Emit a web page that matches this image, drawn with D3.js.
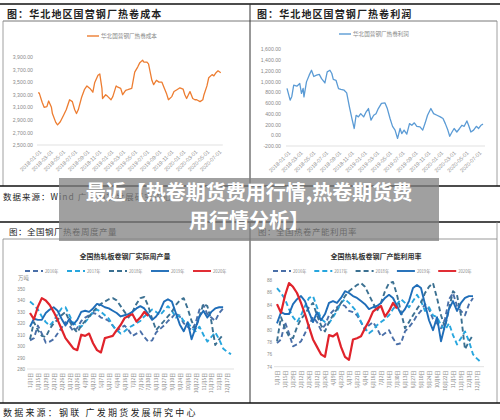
<!DOCTYPE html>
<html>
<head>
<meta charset="utf-8">
<title>热卷期货费用行情</title>
<script src="https://cdn.jsdelivr.net/npm/d3@7"></script>
<style>
  body { margin: 0; background: #fff; }
  svg { display: block; font-family: "Noto Sans CJK SC", "DejaVu Sans", sans-serif; }
</style>
</head>
<body>
<div id="chart"></div>
<script>

// ---------- data: top-left, daily cost ----------
var costDates = ["2018-01-01","2018-01-07","2018-01-22","2018-02-01","2018-02-15","2018-02-24","2018-03-10","2018-03-15",
  "2018-04-01","2018-04-10","2018-04-24","2018-05-10","2018-05-24","2018-06-10","2018-06-24","2018-07-06","2018-07-15",
  "2018-07-24","2018-08-10","2018-08-24","2018-09-06","2018-09-21","2018-10-06","2018-10-15","2018-11-01","2018-11-10",
  "2018-11-21","2018-11-24","2018-12-10","2018-12-21","2019-01-06","2019-01-15","2019-02-01","2019-02-10","2019-02-24",
  "2019-03-06","2019-03-21","2019-04-01","2019-04-21","2019-05-06","2019-05-21","2019-06-01","2019-06-15","2019-06-21",
  "2019-07-06","2019-07-15","2019-08-01","2019-08-10","2019-08-24","2019-09-06","2019-09-21","2019-10-01","2019-10-15",
  "2019-10-24","2019-11-10","2019-11-21","2019-12-06","2019-12-21","2020-01-06","2020-01-15","2020-01-24","2020-02-10",
  "2020-02-24","2020-03-06","2020-03-15","2020-04-01","2020-04-15","2020-04-21","2020-05-06","2020-05-15","2020-06-01",
  "2020-06-10","2020-06-21","2020-07-01","2020-07-15"];
var costValues = [3330,3330,3180,3100,3110,3200,3100,3000,2860,2820,2870,2970,3060,3220,3190,3060,3000,3060,3260,3380,
  3440,3400,3340,3490,3610,3630,3400,3240,3300,3270,3220,3270,3440,3420,3400,3300,3370,3380,3400,3660,3740,3810,3850,
  3820,3820,3790,3530,3460,3530,3500,3500,3420,3310,3220,3270,3350,3380,3410,3390,3300,3240,3350,3240,3220,3220,3190,
  3220,3300,3440,3570,3620,3600,3650,3680,3650];

// ---------- data: top-right, daily profit ----------
var profitDates = ["2018-01-01","2018-01-16","2018-01-24","2018-02-02","2018-02-17","2018-03-03","2018-03-11","2018-03-19",
  "2018-03-23","2018-04-04","2018-04-17","2018-04-28","2018-05-09","2018-05-22","2018-06-04","2018-06-15","2018-07-01",
  "2018-07-12","2018-07-25","2018-08-03","2018-08-10","2018-08-23","2018-09-04","2018-09-15","2018-10-01","2018-10-13",
  "2018-10-26","2018-11-07","2018-11-18","2018-11-27","2018-12-08","2018-12-19","2019-01-02","2019-01-14","2019-01-25",
  "2019-02-06","2019-02-19","2019-03-02","2019-03-13","2019-03-28","2019-04-14","2019-04-25","2019-05-08","2019-05-20",
  "2019-06-01","2019-06-13","2019-06-25","2019-07-03","2019-07-14","2019-07-27","2019-08-09","2019-08-20","2019-09-01",
  "2019-09-13","2019-09-28","2019-10-11","2019-10-23","2019-11-03","2019-11-19","2019-12-02","2019-12-18","2020-01-03",
  "2020-01-16","2020-01-27","2020-02-08","2020-02-17","2020-02-28","2020-03-09","2020-03-22","2020-04-04","2020-04-15",
  "2020-04-26","2020-05-09","2020-05-17","2020-05-28","2020-06-10","2020-06-23","2020-07-04","2020-07-15","2020-07-25"];
var profitValues = [870,650,720,930,910,960,775,870,710,990,1115,1205,1090,1115,1130,1050,970,1175,1205,1145,1035,1020,
  865,850,835,785,525,310,125,370,340,400,340,435,495,280,370,400,495,590,600,495,310,165,95,-60,125,30,95,20,215,185,
  230,165,155,95,230,370,495,400,370,340,310,215,95,-20,60,125,60,125,185,165,265,185,60,95,165,125,185,205];

var monthTicks = ["2018-01-01","2018-03-01","2018-05-01","2018-07-01","2018-09-01","2018-11-01","2019-01-01","2019-03-01",
  "2019-05-01","2019-07-01","2019-09-01","2019-11-01","2020-01-01","2020-03-01","2020-05-01","2020-07-01"];
var costTicks = [2500,2700,2900,3100,3300,3500,3700,3900];
var profitTicks = [-200,0,200,400,600,800,1000,1200,1400,1600];

// ---------- data: bottom, weekly ----------
var weekLabels = ["1月1日","1月8日","1月15日","1月22日","1月29日","2月5日","2月12日","2月19日","2月26日","3月5日","3月12日",
  "3月19日","3月26日","4月2日","4月9日","4月16日","4月23日","4月30日","5月7日","5月14日","5月21日","5月28日","6月4日",
  "6月11日","6月18日","6月25日","7月2日","7月9日","7月16日","7月23日","7月30日","8月6日","8月13日","8月20日","8月27日",
  "9月3日","9月10日","9月17日","9月24日","10月1日","10月8日","10月15日","10月22日","10月29日","11月5日","11月12日",
  "11月19日","11月26日","12月3日","12月10日","12月17日","12月24日"];
var years = ["2016年","2017年","2018年","2019年","2020年"];

var prod2016 = [305,307,318,311,303,304,306,311,316,321,318,313,316,322,325,327,329,328,325,324,322,318,313,316,318,314,
  309,311,313,308,304,305,312,315,318,322,325,329,326,320,317,314,320,332,336,328,325,322,329,333];
var prod2017 = [339,336,332,326,321,318,322,328,333,334,327,320,318,317,321,325,330,332,330,327,324,318,314,311,313,316,
  318,320,322,326,329,332,330,327,331,335,331,325,327,322,321,316,313,317,310,304,308,312,306,298,295,293];
var prod2018 = [306,321,314,309,308,315,320,323,327,330,322,316,312,318,322,326,330,334,337,339,341,342,340,335,330,325,
  330,337,342,343,335,324,314,318,322,326,330,336,340,342,333,322,315,326,337,335,322,301,306,310];
var prod2019 = [317,324,323,323,329,332,334,331,324,318,324,319,323,330,331,330,333,337,336,334,333,331,329,326,327,328,
  330,333,335,333,328,323,326,331,339,341,339,329,319,313,321,306,316,326,331,325,330,333,334,334];
var prod2020 = [329,323.5,334.5,342,340,336,330,323,315,307,302.5,298,296.5,310,309,311,302.5,296.5,294.5,307,308,309,314,
  318.5,324.5,326.5,328,321.5,325,330,326.5];
var prodTicks = [280,290,300,310,320,330,340,350];

var util2016 = [77.8,78.4,81.2,79.4,77.3,77.6,78.1,79.4,80.7,82.0,81.2,79.9,80.7,82.3,83.0,83.6,84.1,83.8,83.0,82.8,82.3,
  81.2,79.9,80.7,81.2,80.2,78.9,79.4,79.9,78.6,77.6,77.8,79.7,80.4,81.2,82.3,83.0,84.1,83.3,81.7,81.0,80.2,81.7,84.9,85.9,
  83.8,83.0,82.3,84.1,85.1];
var util2017 = [86.7,85.9,84.9,83.3,82.0,81.2,82.3,83.8,85.1,85.4,83.6,81.7,81.2,81.0,82.0,83.0,84.3,84.9,84.3,83.6,82.8,
  81.2,80.2,79.4,79.9,80.7,81.2,81.7,82.3,83.3,84.1,84.9,84.3,83.6,84.6,85.6,84.6,83.0,83.6,82.3,82.0,80.7,79.9,81.0,79.1,
  77.6,78.6,79.7,78.1,76.0,75.3,74.7];
var util2018 = [78.1,82.0,80.2,78.9,78.6,80.4,81.7,82.5,83.6,84.3,82.3,80.7,79.7,81.2,82.3,83.3,84.3,85.4,86.2,86.7,87.2,
  87.5,86.9,85.6,84.3,83.0,84.3,86.2,87.5,87.7,85.6,82.8,80.2,81.2,82.3,83.3,84.3,85.9,86.9,87.5,85.1,82.3,80.4,83.3,86.2,
  85.6,82.3,76.8,78.1,79.1];
var util2019 = [81.0,82.8,82.5,82.5,84.1,84.9,85.4,84.6,82.8,81.2,82.8,81.5,82.5,84.3,84.6,84.3,85.1,86.2,85.9,85.4,85.1,
  84.6,84.1,83.3,83.6,83.8,84.3,85.1,85.6,85.1,83.8,82.5,83.3,84.6,86.7,87.2,86.7,84.1,81.5,79.9,82.0,78.1,80.7,83.3,84.6,
  83.0,84.3,85.1,85.4,85.4];
var util2020 = [84.1,82.7,85.5,87.5,86.9,85.9,84.3,82.5,80.4,78.4,77.2,76.0,75.6,79.1,78.9,79.4,77.2,75.6,75.1,78.4,78.6,
  78.9,80.2,81.4,82.9,83.4,83.8,82.1,83.0,84.3,83.4];
var utilTicks = [74,76,78,80,82,84,86,88];

var yearColors = ["#4a6fa8","#27a6de","#3b7091","#1f6db8","#e0232b"];
var yearDash = ["5,3","5,3","5,3",null,null];

// ---------- svg ----------
var svg = d3.select("#chart")
  .append("svg")
    .attr("width", 500)
    .attr("height", 420);

var parse = d3.timeParse("%Y-%m-%d");
var fmt2 = function(d){ return d3.format(",.2f")(d).replace("\u2212", "-"); };

function line(x1, y1, x2, y2, color, w) {
  svg.append("line")
    .attr("x1", x1).attr("y1", y1).attr("x2", x2).attr("y2", y2)
    .attr("stroke", color).attr("stroke-width", w);
}

function text(x, y, s, size, opts) {
  opts = opts || {};
  return svg.append("text")
    .attr("x", x).attr("y", y)
    .attr("text-anchor", opts.anchor || "start")
    .style("font-size", size + "px")
    .style("font-weight", opts.weight || 400)
    .style("letter-spacing", (opts.ls || 0) + "px")
    .attr("fill", opts.color || "#222")
    .text(s);
}

// ---------------------------//
//       PANEL FRAMES         //
// ---------------------------//
line(0, 4, 500, 4, "#111", 1.6);
line(3, 21, 497, 21, "#555", 0.8);
line(3, 21, 3, 186, "#888", 0.8);
line(497, 21, 497, 186, "#888", 0.8);
line(250, 4, 250, 186, "#333", 1);
line(0, 186, 500, 186, "#111", 1.4);

line(0, 222, 500, 222, "#111", 1.4);
line(3, 239, 497, 239, "#999", 1);
line(3, 239, 3, 403, "#888", 0.8);
line(497, 222, 497, 403, "#888", 0.8);
line(250, 222, 250, 403, "#333", 1);
line(0, 403, 500, 403, "#111", 1.4);

text(7, 17.5, "图：华北地区国营钢厂热卷成本", 10, {weight: 700, ls: 1.1});
text(257, 17.5, "图：华北地区国营钢厂热卷利润", 10, {weight: 700, ls: 1.1});
text(3, 200, "数据来源：Wind 广发期货发展研究中心", 8.5, {ls: 1});
text(9, 235, "图：全国钢厂热卷周度产量", 8.5, {ls: 0.5});
text(258, 235, "图：全国热卷产能利用率", 8.5, {ls: 0.5});
text(3, 416, "数据来源：钢联 广发期货发展研究中心", 9, {ls: 2.2});

// ---------------------------//
//       DAILY CHARTS         //
// ---------------------------//
function drawDaily(cfg) {
  var g = svg.append("g");
  var x = d3.scaleTime()
    .domain([parse(monthTicks[0]), parse(monthTicks[monthTicks.length - 1])])
    .range(cfg.xRange);
  var y = d3.scaleLinear().domain(cfg.yDomain).range(cfg.yRange);
  var pts = cfg.dates.map(function(d, i){ return [parse(d), cfg.values[i]]; });

  // baseline
  g.append("line")
    .attr("x1", cfg.xRange[0] - 1).attr("x2", x(pts[pts.length - 1][0]) + 2)
    .attr("y1", cfg.yRange[0]).attr("y2", cfg.yRange[0])
    .attr("stroke", "#d9d9d9").attr("stroke-width", 0.8);

  // Y axis
  var ya = g.append("g")
    .attr("transform", "translate(" + cfg.yAxisX + ",0)")
    .call(d3.axisLeft(y).tickValues(cfg.yTicks).tickSize(0).tickPadding(4).tickFormat(fmt2));
  ya.select(".domain").remove();
  ya.selectAll("text")
    .attr("fill", "#8a8a8a")
    .style("font-size", "5.2px")
    .style("font-family", "'Liberation Sans', sans-serif");

  // X axis with slanted dates
  var xa = g.append("g")
    .attr("transform", "translate(0," + cfg.yRange[0] + ")")
    .call(d3.axisBottom(x).tickValues(monthTicks.map(parse)).tickSize(0).tickFormat(d3.timeFormat("%Y-%m-%d")));
  xa.select(".domain").remove();
  xa.selectAll("text")
    .attr("y", 0)
    .attr("dy", "0.35em")
    .attr("text-anchor", "end")
    .attr("transform", "translate(2,6) rotate(-45)")
    .attr("fill", "#8a8a8a")
    .style("font-size", "5.4px")
    .style("font-family", "'Liberation Sans', sans-serif");

  // line
  g.append("path")
    .datum(pts)
    .attr("d", d3.line().x(function(d){ return x(d[0]); }).y(function(d){ return y(d[1]); }))
    .attr("fill", "none")
    .attr("stroke", cfg.color)
    .attr("stroke-width", 1.3)
    .attr("stroke-linejoin", "round");

  // legend
  g.append("line")
    .attr("x1", cfg.legend[0]).attr("x2", cfg.legend[0] + 12)
    .attr("y1", cfg.legend[1]).attr("y2", cfg.legend[1])
    .attr("stroke", cfg.color).attr("stroke-width", 1.4);
  g.append("text")
    .attr("x", cfg.legend[0] + 14).attr("y", cfg.legend[1] + 2)
    .attr("fill", "#8a8a8a")
    .style("font-size", "5.6px")
    .text(cfg.name);
}

drawDaily({dates: costDates, values: costValues, color: "#ed7d31", name: "华北国营钢厂热卷成本",
  xRange: [38, 218], yDomain: [2500, 3900], yRange: [145, 57], yTicks: costTicks, yAxisX: 37, legend: [87, 36]});
drawDaily({dates: profitDates, values: profitValues, color: "#5b9bd5", name: "华北国营钢厂热卷利润",
  xRange: [287, 478], yDomain: [-200, 1600], yRange: [146, 49], yTicks: profitTicks, yAxisX: 285, legend: [339, 34]});

// ---------------------------//
//       WEEKLY CHARTS        //
// ---------------------------//
function drawWeekly(cfg) {
  var g = svg.append("g");
  var x = d3.scalePoint().domain(weekLabels).range(cfg.xRange);
  var y = d3.scaleLinear().domain(cfg.yDomain).range(cfg.yRange);

  // title
  g.append("text")
    .attr("x", cfg.titleX).attr("y", 259)
    .attr("text-anchor", "middle")
    .style("font-size", "7px").style("font-weight", 700)
    .attr("fill", "#333")
    .text(cfg.title);

  // baseline
  g.append("line")
    .attr("x1", cfg.xRange[0] - 3).attr("x2", cfg.xRange[1] + 3)
    .attr("y1", cfg.yRange[0]).attr("y2", cfg.yRange[0])
    .attr("stroke", "#d9d9d9").attr("stroke-width", 0.8);

  var ya = g.append("g")
    .attr("transform", "translate(" + (cfg.xRange[0] - 2) + ",0)")
    .call(d3.axisLeft(y).tickValues(cfg.yTicks).tickSize(0).tickPadding(3));
  ya.select(".domain").remove();
  ya.selectAll("text")
    .attr("fill", "#8a8a8a")
    .style("font-size", "4.6px")
    .style("font-family", "'Liberation Sans', sans-serif");

  var xa = g.append("g")
    .attr("transform", "translate(0," + cfg.yRange[0] + ")")
    .call(d3.axisBottom(x).tickValues(weekLabels.filter(function(d, i){ return i % 2 === 0; })).tickSize(0));
  xa.select(".domain").remove();
  xa.selectAll("text")
    .attr("y", 0)
    .attr("dy", "0.35em")
    .attr("text-anchor", "end")
    .attr("transform", "translate(0,4) rotate(-90)")
    .attr("fill", "#8a8a8a")
    .style("font-size", "4.8px")
    .style("font-family", "'Noto Sans CJK SC', sans-serif");

  if (cfg.unit) {
    g.append("text").attr("x", 18).attr("y", 280)
      .attr("fill", "#8a8a8a").style("font-size", "5.4px").text(cfg.unit);
  }

  var lineGen = d3.line()
    .x(function(d, i){ return x(weekLabels[i]); })
    .y(function(d){ return y(d); });

  cfg.series.forEach(function(s, k) {
    g.append("path")
      .datum(s)
      .attr("d", lineGen)
      .attr("fill", "none")
      .attr("stroke", yearColors[k])
      .attr("stroke-width", k === 4 ? 2.2 : 1.9)
      .attr("stroke-dasharray", yearDash[k])
      .attr("stroke-linejoin", "round");
  });

  // legend
  years.forEach(function(name, k) {
    var lx = cfg.legendX + k * cfg.legendStep;
    g.append("line")
      .attr("x1", lx).attr("x2", lx + 18)
      .attr("y1", 271).attr("y2", 271)
      .attr("stroke", yearColors[k]).attr("stroke-width", 1.9)
      .attr("stroke-dasharray", yearDash[k]);
    g.append("text")
      .attr("x", lx + 20).attr("y", 272.5)
      .attr("fill", "#8a8a8a")
      .style("font-size", "4.2px")
      .text(name);
  });
}

drawWeekly({title: "全国热轧板卷钢厂实际周产量", titleX: 125, unit: "万吨",
  series: [prod2016, prod2017, prod2018, prod2019, prod2020],
  xRange: [30, 231], yDomain: [280, 350], yRange: [369, 289], yTicks: prodTicks,
  legendX: 25, legendStep: 42});
drawWeekly({title: "全国热轧板卷钢厂产能利用率", titleX: 376,
  series: [util2016, util2017, util2018, util2019, util2020],
  xRange: [277, 481], yDomain: [74, 88], yRange: [366.7, 280], yTicks: utilTicks,
  legendX: 273, legendStep: 41.3});

// ---------------------------//
//       OVERLAY BANNER       //
// ---------------------------//
svg.append("rect")
  .attr("x", 59).attr("y", 178).attr("width", 380).attr("height", 63)
  .attr("fill", "#808080").attr("opacity", 0.75);
text(249, 200, "最近【热卷期货费用行情,热卷期货费", 20, {anchor: "middle", weight: 700, color: "#fff"});
text(249, 228, "用行情分析】", 20, {anchor: "middle", weight: 700, color: "#fff"});

</script>
</body>
</html>
